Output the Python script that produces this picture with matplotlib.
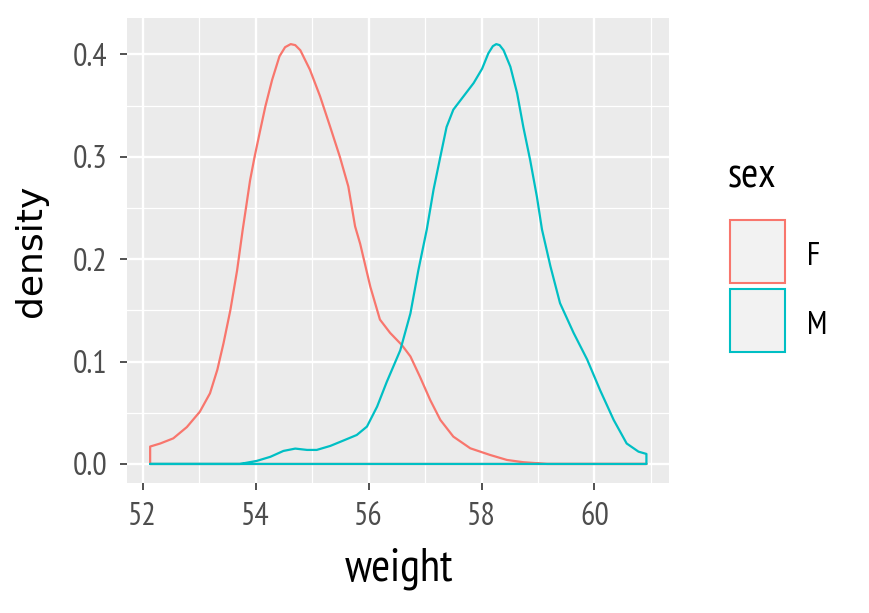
import matplotlib
matplotlib.use("Agg")
import matplotlib.pyplot as plt
from matplotlib.patches import Rectangle

narrow = ['PT Sans Narrow', 'Roboto Condensed', 'Liberation Sans Narrow', 'DejaVu Sans']
plt.rcParams['font.family'] = narrow

# density curves
f_x = [52.13, 52.13, 52.31, 52.54, 52.78, 53.01, 53.19, 53.32, 53.43, 53.55, 53.67,
       53.77, 53.83, 53.90, 53.98, 54.08, 54.17, 54.29, 54.42, 54.52, 54.62, 54.70,
       54.79, 54.96, 55.14, 55.32, 55.49, 55.64, 55.76, 55.85, 56.03, 56.20, 56.38,
       56.59, 56.74, 56.91, 57.09, 57.27, 57.50, 57.80, 58.15, 58.45, 58.74, 59.16,
       60.92]
f_y = [0.0, 0.017, 0.020, 0.025, 0.036, 0.051, 0.069, 0.092, 0.118, 0.150, 0.189,
       0.229, 0.251, 0.277, 0.300, 0.326, 0.349, 0.375, 0.398, 0.407, 0.410, 0.409,
       0.404, 0.385, 0.359, 0.329, 0.300, 0.271, 0.232, 0.215, 0.173, 0.141, 0.128,
       0.116, 0.105, 0.085, 0.0625, 0.043, 0.0267, 0.0153, 0.0088, 0.0039, 0.0017, 0.0,
       0.0]

m_x = [52.13, 53.72, 54.02, 54.26, 54.49, 54.70, 54.91, 55.08, 55.32, 55.55, 55.79,
       55.97, 56.15, 56.32, 56.56, 56.74, 56.88, 57.03, 57.15, 57.27, 57.38, 57.50,
       57.68, 57.86, 58.01, 58.12, 58.20, 58.26, 58.32, 58.39, 58.51, 58.63, 58.74,
       58.86, 58.98, 59.07, 59.22, 59.39, 59.63, 59.87, 60.10, 60.34, 60.57, 60.78,
       60.92, 60.92]
m_y = [0.0, 0.0, 0.003, 0.007, 0.0127, 0.015, 0.0137, 0.0137, 0.0176, 0.0228, 0.0283,
       0.0365, 0.056, 0.080, 0.111, 0.147, 0.189, 0.229, 0.268, 0.300, 0.329, 0.346,
       0.359, 0.372, 0.386, 0.401, 0.408, 0.410, 0.409, 0.404, 0.388, 0.362, 0.329,
       0.297, 0.261, 0.229, 0.193, 0.157, 0.128, 0.102, 0.072, 0.043, 0.020, 0.012,
       0.0098, 0.0]

groups = ["F", "M"]
colors = ["#F8766D", "#00BFC4"]
x_ticks = [52, 54, 56, 58, 60]
y_ticks = [0.0, 0.1, 0.2, 0.3, 0.4]

fig = plt.figure(figsize=(8.69, 6.13), dpi=100)
ax = fig.add_axes([127/869, 1-483/613, 542/869, 465/613])
ax.set_facecolor("#EBEBEB")

for xs, ys, c in [(f_x, f_y, colors[0]), (m_x, m_y, colors[1])]:
    ax.fill(xs, ys, facecolor="none", edgecolor=c, linewidth=1.6,
            joinstyle="round", zorder=3)

ax.set_xlim(51.72, 61.32)
ax.set_ylim(-0.0186, 0.4355)
ax.set_xticks(x_ticks)
ax.set_yticks(y_ticks)
ax.set_yticklabels([f"{v:.1f}" for v in y_ticks])
ax.set_xticks([53, 55, 57, 59, 61], minor=True)
ax.set_yticks([0.05, 0.15, 0.25, 0.35], minor=True)
ax.grid(which="major", color="white", linewidth=1.7)
ax.grid(which="minor", color="white", linewidth=0.9)
ax.set_axisbelow(True)
for s in ax.spines.values():
    s.set_visible(False)
ax.tick_params(which="major", length=5, width=1.2, color="#333333",
               labelsize=23, labelcolor="#4D4D4D")
ax.tick_params(axis="x", which="major", pad=9)
ax.tick_params(axis="y", which="major", pad=9)
ax.tick_params(which="minor", length=0)

# axis titles
fig.text(399/869, 1-581/613, "weight", fontsize=33, ha="center", va="baseline")
fig.text(30.5/869, 1-251/613, "density", fontsize=26, rotation=90,
         ha="center", va="center", family=['DejaVu Sans'])

# legend
fig.text(728/869, 1-188/613, "sex", fontsize=30, va="baseline", ha="left")
label_base = [265, 334]
for i, (g, c) in enumerate(zip(groups, colors)):
    top = 220 + i * 69
    fig.add_artist(Rectangle((730/869, 1-(top+63)/613), 55/869, 63/613,
                             transform=fig.transFigure, facecolor="#F2F2F2",
                             edgecolor=c, linewidth=1.5))
    fig.text(807/869, 1-label_base[i]/613, g, fontsize=23, va="baseline", ha="left")

fig.savefig("out.png", dpi=100)
